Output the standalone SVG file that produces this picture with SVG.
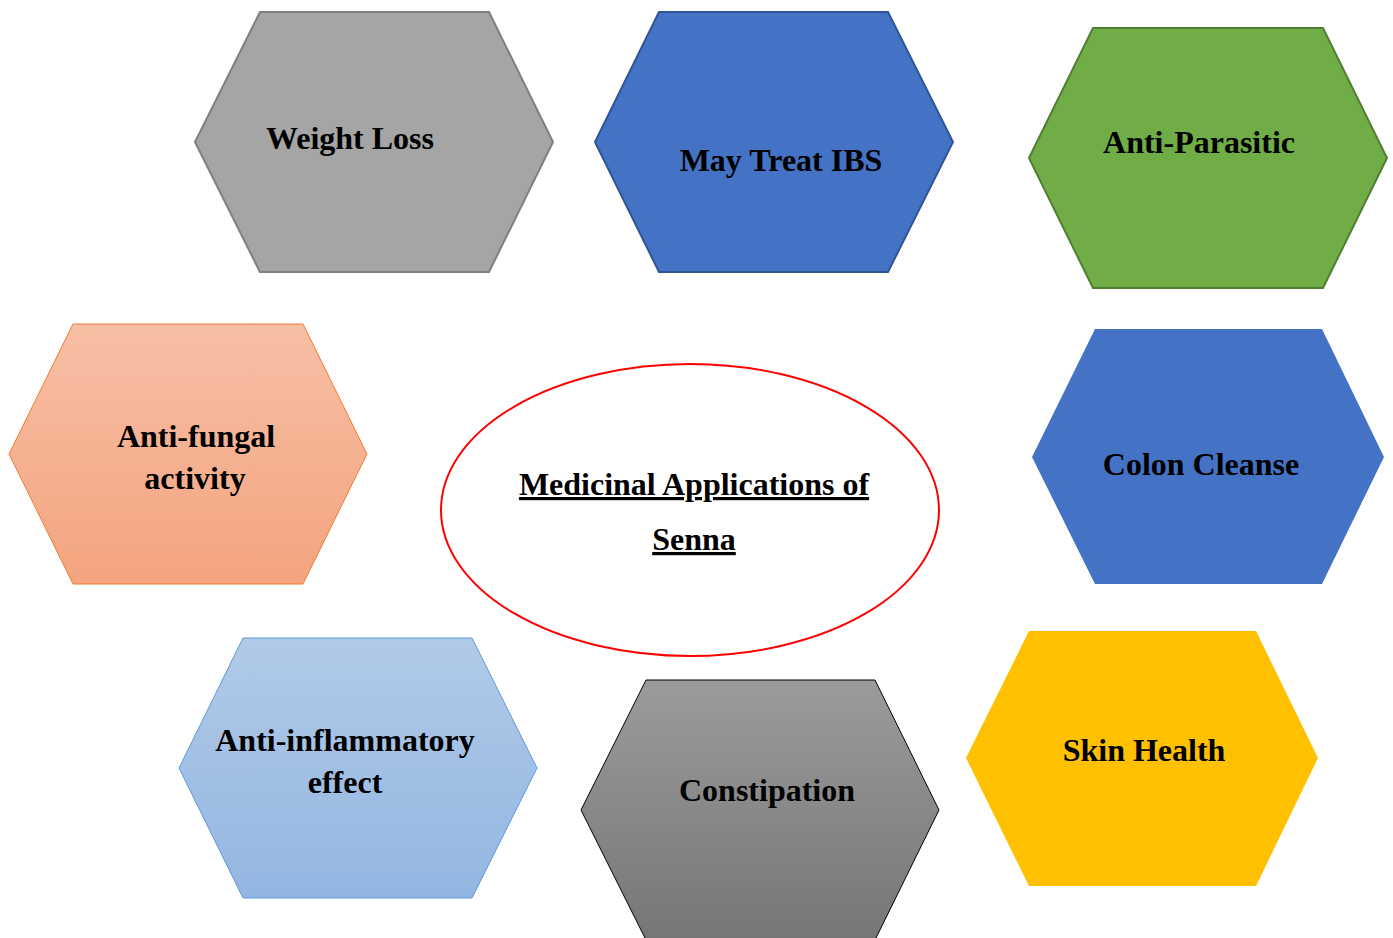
<svg xmlns="http://www.w3.org/2000/svg" width="1393" height="938" viewBox="0 0 1393 938">
  <style>
    .lbl { font-family: "Liberation Serif", "Times New Roman", serif; font-weight: bold; font-size: 32px; fill: #000; text-anchor: middle; }
    .title { text-decoration: underline; }
  </style>
  <defs>
    <linearGradient id="gOrange" x1="0" y1="0" x2="0" y2="1">
      <stop offset="0" stop-color="#f7bfa5"/>
      <stop offset="1" stop-color="#f4a47f"/>
    </linearGradient>
    <linearGradient id="gBlue" x1="0" y1="0" x2="0" y2="1">
      <stop offset="0" stop-color="#b1cae8"/>
      <stop offset="1" stop-color="#93b6e1"/>
    </linearGradient>
    <linearGradient id="gGrey" x1="0" y1="0" x2="0" y2="1">
      <stop offset="0" stop-color="#9b9b9b"/>
      <stop offset="1" stop-color="#767676"/>
    </linearGradient>
  </defs>
  <rect width="1393" height="938" fill="#ffffff"/>

  <g id="weight-loss">
    <polygon points="195,142 260,12 489,12 553,142 489,272 260,272" fill="#a5a5a5" stroke="#7f7f7f" stroke-width="2"/>
    <text class="lbl" x="350" y="149">Weight Loss</text>
  </g>

  <g id="may-treat-ibs">
    <polygon points="595,142 659,12 888,12 953,142 888,272 659,272" fill="#4472c4" stroke="#2f5597" stroke-width="2"/>
    <text class="lbl" x="781" y="171">May Treat IBS</text>
  </g>

  <g id="anti-parasitic">
    <polygon points="1029,158 1093,28 1323,28 1387,158 1323,288 1093,288" fill="#70ad47" stroke="#507e32" stroke-width="2"/>
    <text class="lbl" x="1199" y="153">Anti-Parasitic</text>
  </g>

  <g id="anti-fungal">
    <polygon points="9,454 73,324 303,324 367,454 303,584 73,584" fill="url(#gOrange)" stroke="#ed7d31" stroke-width="1"/>
    <text class="lbl" x="196" y="447">Anti-fungal</text>
    <text class="lbl" x="195" y="489">activity</text>
  </g>

  <g id="colon-cleanse">
    <polygon points="1032,457 1095,329 1322,329 1384,457 1322,584 1095,584" fill="#4472c4"/>
    <text class="lbl" x="1201" y="475">Colon Cleanse</text>
  </g>

  <g id="senna">
    <ellipse cx="690" cy="510" rx="249" ry="146" fill="#ffffff" stroke="#ff0000" stroke-width="2"/>
    <text class="lbl title" x="694" y="495">Medicinal Applications of</text>
    <text class="lbl title" x="694" y="550">Senna</text>
  </g>

  <g id="anti-inflammatory">
    <polygon points="179,768 243,638 472,638 537,768 472,898 243,898" fill="url(#gBlue)" stroke="#5b9bd5" stroke-width="1"/>
    <text class="lbl" x="345" y="751">Anti-inflammatory</text>
    <text class="lbl" x="345" y="793">effect</text>
  </g>

  <g id="constipation">
    <polygon points="581,810 646,680 875,680 939,810 875,940 646,940" fill="url(#gGrey)" stroke="#000000" stroke-width="1"/>
    <text class="lbl" x="767" y="801">Constipation</text>
  </g>

  <g id="skin-health">
    <polygon points="966,758 1029,631 1256,631 1318,758 1256,886 1029,886" fill="#ffc000"/>
    <text class="lbl" x="1144" y="761">Skin Health</text>
  </g>

  <g id="connectors"></g>
</svg>
